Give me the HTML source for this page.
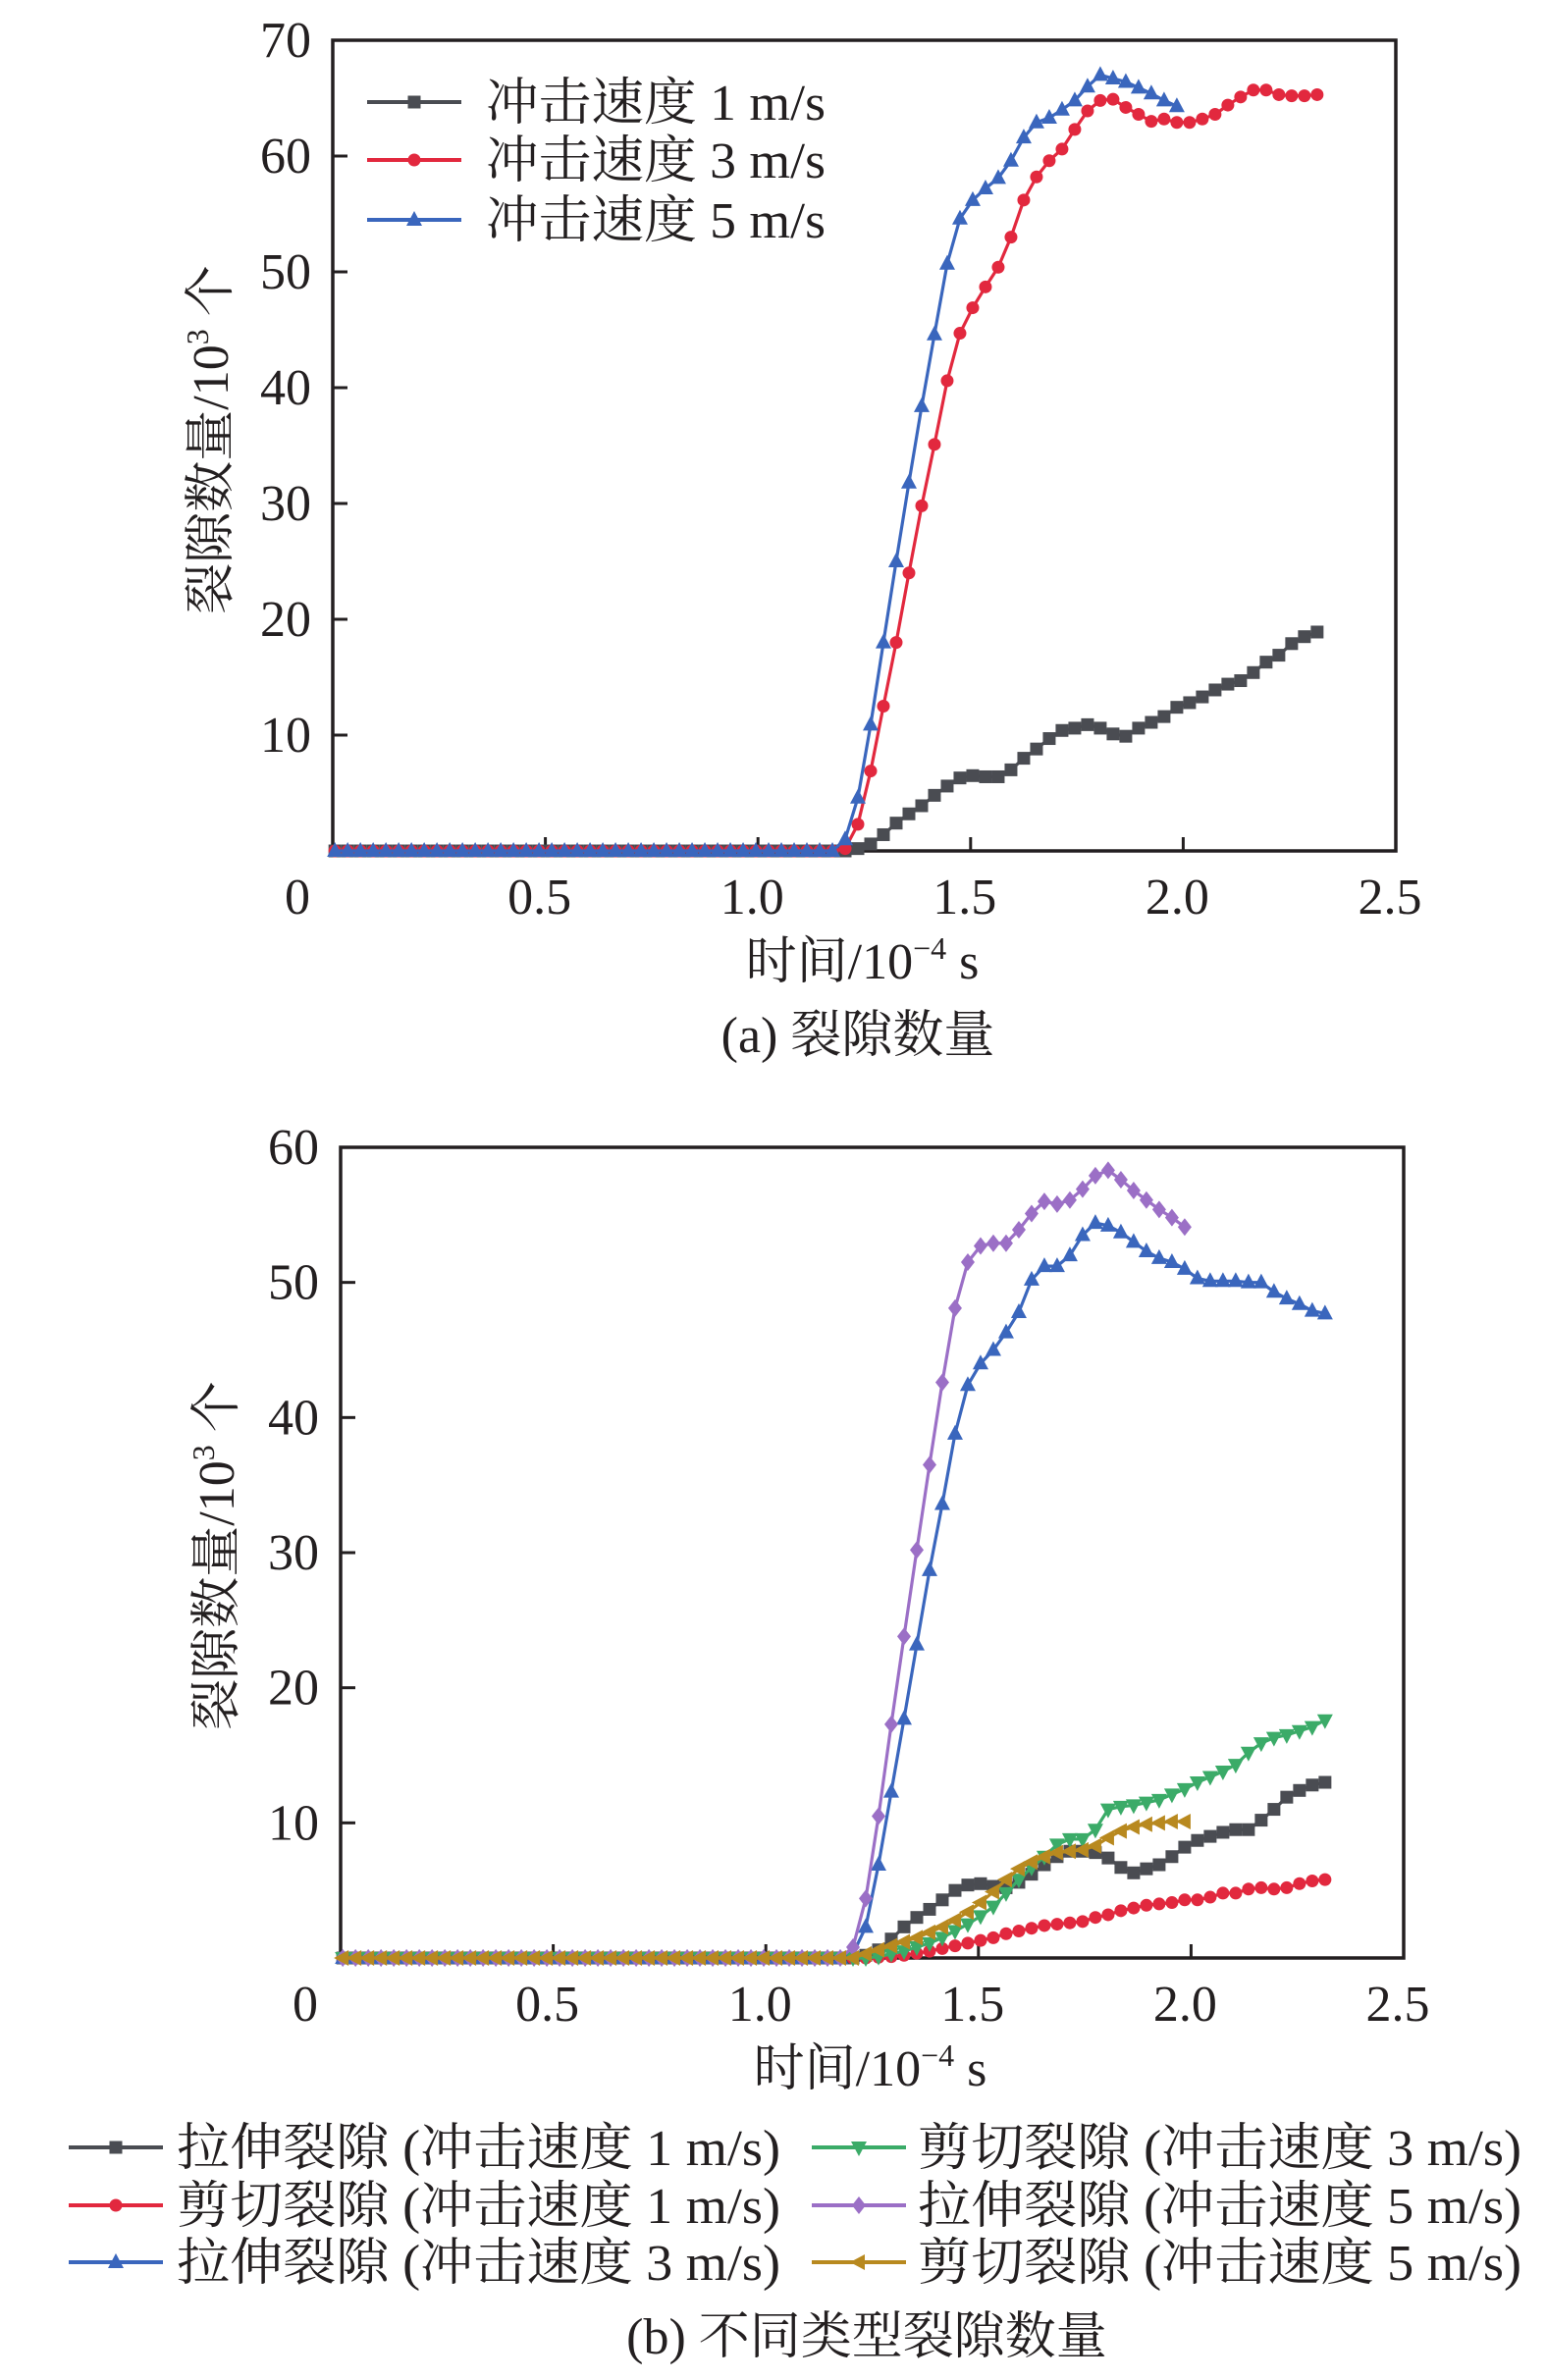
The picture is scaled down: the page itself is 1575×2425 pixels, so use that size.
<!DOCTYPE html>
<html><head><meta charset="utf-8">
<style>
html,body{margin:0;padding:0;background:#fff;}
svg{display:block;}
text{font-family:"Liberation Serif","Noto Serif CJK SC",serif;fill:#231f20;}
</style></head>
<body>
<svg id="fig" width="1575" height="2425" viewBox="0 0 1575 2425" xmlns="http://www.w3.org/2000/svg">
  <g id="chartA"></g>
  <g id="chartB"></g>
  <text x="874" y="1072" font-size="52" text-anchor="middle">(a) 裂隙数量</text>
  <text x="883" y="2398" font-size="52" text-anchor="middle">(b) 不同类型裂隙数量</text>
</svg>
<script>
// sampling grid: t_i = T0 + DT*i (10^-4 s)
const T0 = 0.005, DT = 0.03;
const Z40 = [0,0,0,0,0,0,0,0,0,0,0,0,0,0,0,0,0,0,0,0,0,0,0,0,0,0,0,0,0,0,0,0,0,0,0,0,0,0,0,0];
const xTicks = [0.5, 1.0, 1.5, 2.0];
const xTickLabels = ["0", "0.5", "1.0", "1.5", "2.0", "2.5"];
const yTicksA = [10,20,30,40,50,60,70];
const yTicksB = [10,20,30,40,50,60];

// Chart A series
const a1 = Z40.concat([0,0.2,0.6,1.4,2.4,3.2,3.9,4.8,5.6,6.3,6.5,6.4,6.4,7,8,8.8,9.7,10.4,10.6,10.9,10.6,10.1,9.9,10.6,11.1,11.6,12.4,12.8,13.3,13.9,14.4,14.7,15.4,16.3,16.9,17.9,18.5,18.9]);
const a3 = Z40.concat([0.2,2.3,6.9,12.5,18,24,29.8,35.1,40.6,44.7,46.9,48.7,50.4,53,56.2,58.2,59.6,60.6,62.3,63.9,64.8,64.9,64.2,63.6,63,63.2,62.9,62.9,63.2,63.6,64.4,65.1,65.7,65.7,65.3,65.2,65.2,65.3]);
const a5 = Z40.concat([1,4.6,10.9,18,25,31.8,38.4,44.6,50.7,54.6,56.2,57.2,58.1,59.6,61.6,62.9,63.3,64,64.8,66,67,66.7,66.4,65.9,65.4,64.8,64.3]);

// Chart B series
const bT1 = Z40.concat([0,0.2,0.6,1.4,2.3,3,3.6,4.3,5,5.4,5.5,5.3,5.2,5.6,6.2,6.9,7.5,7.9,7.9,7.8,7.4,6.7,6.3,6.6,6.9,7.5,8.2,8.7,9,9.3,9.5,9.5,10.2,11,11.9,12.4,12.8,13]);
const bS1 = Z40.concat([0,0,0.05,0.1,0.2,0.35,0.5,0.7,0.9,1.1,1.3,1.5,1.8,2.0,2.2,2.4,2.5,2.6,2.7,3.0,3.2,3.5,3.7,3.9,4.0,4.1,4.3,4.3,4.5,4.8,4.8,5.1,5.2,5.1,5.2,5.5,5.7,5.8]);
const bT3 = Z40.concat([0.3,2.3,6.9,12.3,17.7,23.2,28.7,33.6,38.8,42.4,44,45,46.3,47.8,50.2,51.2,51.2,52,53.5,54.4,54.2,53.7,53,52.3,51.8,51.5,51,50.3,50.1,50.1,50.1,50,50,49.3,48.8,48.4,47.9,47.7]);
const bS3 = Z40.concat([0,0,0.1,0.3,0.5,0.8,1.1,1.5,2.0,2.5,3.1,3.8,4.8,5.8,6.7,7.5,8.4,8.8,8.8,9.5,11,11.2,11.3,11.5,11.7,12.1,12.5,13,13.4,13.8,14.3,15.2,15.9,16.3,16.5,16.8,17.1,17.6]);
const bT5 = Z40.concat([0.8,4.4,10.5,17.3,23.8,30.2,36.5,42.6,48.1,51.5,52.7,52.9,52.9,53.9,55.1,56,55.8,56.1,56.9,57.9,58.3,57.6,56.8,56.1,55.4,54.8,54.1]);
const bS5 = Z40.concat([0,0.3,0.6,0.9,1.2,1.5,1.9,2.3,2.8,3.4,4.1,4.9,5.8,6.6,7.1,7.5,7.8,7.9,8.0,8.3,8.9,9.4,9.7,9.9,10.0,10.1,10.1]);

const legendA = ["冲击速度 1 m/s","冲击速度 3 m/s","冲击速度 5 m/s"];
const legendB = ["拉伸裂隙 (冲击速度 1 m/s)","剪切裂隙 (冲击速度 1 m/s)","拉伸裂隙 (冲击速度 3 m/s)","剪切裂隙 (冲击速度 3 m/s)","拉伸裂隙 (冲击速度 5 m/s)","剪切裂隙 (冲击速度 5 m/s)"];

const NS = "http://www.w3.org/2000/svg";
const COL = {k:"#4a4c52", r:"#e2283e", b:"#3a66bd", g:"#3bab68", p:"#9b6fc6", o:"#b8891f"};
function mk(tag, attrs, parent){const e=document.createElementNS(NS,tag);for(const k in attrs)e.setAttribute(k,attrs[k]);parent.appendChild(e);return e;}

function marker(g, shape, x, y, c){
  let e;
  if(shape==="sq") e=mk("rect",{x:x-6.5,y:y-6.5,width:13,height:13,fill:c},g);
  else if(shape==="ci") e=mk("circle",{cx:x,cy:y,r:6.5,fill:c},g);
  else if(shape==="tu") e=mk("polygon",{points:`${x},${y-9} ${x-8},${y+6} ${x+8},${y+6}`,fill:c},g);
  else if(shape==="td") e=mk("polygon",{points:`${x},${y+9} ${x-8},${y-6} ${x+8},${y-6}`,fill:c},g);
  else if(shape==="di") e=mk("polygon",{points:`${x},${y-9} ${x+7},${y} ${x},${y+9} ${x-7},${y}`,fill:c},g);
  else e=mk("polygon",{points:`${x-9},${y} ${x+6},${y-8} ${x+6},${y+8}`,fill:c},g);
  return e;
}

function chart(root, box, ymax, yTicks, series, legend, ytitle){
  const sx = v => box.l + (v/2.5)*(box.r-box.l);
  const sy = v => box.b - (v/ymax)*(box.b-box.t);
  const ax = mk("g",{},root);
  
  
  const frame = mk("rect",{x:box.l,y:box.t,width:box.r-box.l,height:box.b-box.t,fill:"none",stroke:"#231f20","stroke-width":3.5},ax);
  
  
  xTicks.forEach(v=>{const t=mk("line",{x1:sx(v),x2:sx(v),y1:box.b,y2:box.b-14,stroke:"#231f20","stroke-width":3},ax);
    
    });
  yTicks.forEach(v=>{const t=mk("line",{x1:box.l,x2:box.l+15,y1:sy(v),y2:sy(v),stroke:"#231f20","stroke-width":3},ax);
    
    
    const lb=mk("text",{x:box.l-22,y:sy(v)+17,"font-size":52,"text-anchor":"end"},ax); lb.textContent=String(v);
    
    });
  xTickLabels.forEach((s,i)=>{const v=i*0.5;let x=sx(v)-6; if(i===0)x=box.l-36;
    const lb=mk("text",{x:x,y:box.b+64,"font-size":52,"text-anchor":"middle"},ax); lb.textContent=s;
    
    });
  const xt=mk("text",{x:(box.l+box.r)/2+-2,y:box.b+130,"font-size":52,"text-anchor":"middle"},ax);
  
  
  xt.innerHTML='时间/10<tspan font-size="32" dy="-20">−4</tspan><tspan dy="20"> s</tspan>';
  const yt=mk("text",{x:0,y:0,"font-size":52,"text-anchor":"middle",transform:`translate(${ytitle.x},${ytitle.y}) rotate(-90)`},ax);
  
  
  yt.innerHTML='裂隙数量/10<tspan font-size="32" dy="-20">3</tspan><tspan dy="20"> 个</tspan>';
  series.forEach(s=>{
    const g=mk("g",{},root);
    
    
    const pts=s.data.map((v,i)=>[sx(T0+DT*i),sy(v)]);
    const pl=mk("polyline",{points:pts.map(p=>p.join(",")).join(" "),fill:"none",stroke:s.c,"stroke-width":3.2,"stroke-linejoin":"round"},g);
    
    
    pts.forEach(p=>{const m=marker(g,s.m,p[0],p[1],s.c);
      
      });
  });
  legend.forEach((it,i)=>{
    const g=mk("g",{},root);
    
    
    mk("line",{x1:it.x,x2:it.x+96,y1:it.y,y2:it.y,stroke:it.c,"stroke-width":4},g);
    marker(g,it.m,it.x+48,it.y,it.c);
    const t=mk("text",{x:it.tx,y:it.y+18,"font-size":52,textLength:it.w,lengthAdjust:"spacingAndGlyphs"},g);
    t.textContent=it.label;
  });
}

const A=document.getElementById("chartA");
chart(A,{l:339,r:1422,t:41,b:867},70,yTicksA,[
  {name:"series-1ms",data:a1,c:COL.k,m:"sq"},
  {name:"series-3ms",data:a3,c:COL.r,m:"ci"},
  {name:"series-5ms",data:a5,c:COL.b,m:"tu"}],
  [{label:legendA[0],x:374,y:104,tx:495,w:346,c:COL.k,m:"sq"},
   {label:legendA[1],x:374,y:163,tx:495,w:346,c:COL.r,m:"ci"},
   {label:legendA[2],x:374,y:224,tx:495,w:346,c:COL.b,m:"tu"}],
  {x:232,y:448});

const B=document.getElementById("chartB");
chart(B,{l:347,r:1430,t:1169,b:1995},60,yTicksB,[
  {name:"tension-1ms",data:bT1,c:COL.k,m:"sq"},
  {name:"shear-1ms",data:bS1,c:COL.r,m:"ci"},
  {name:"tension-3ms",data:bT3,c:COL.b,m:"tu"},
  {name:"shear-3ms",data:bS3,c:COL.g,m:"td"},
  {name:"tension-5ms",data:bT5,c:COL.p,m:"di"},
  {name:"shear-5ms",data:bS5,c:COL.o,m:"tl"}],
  [{label:legendB[0],x:70,y:2188,tx:180,w:615,c:COL.k,m:"sq"},
   {label:legendB[1],x:70,y:2247,tx:180,w:615,c:COL.r,m:"ci"},
   {label:legendB[2],x:70,y:2305,tx:180,w:615,c:COL.b,m:"tu"},
   {label:legendB[3],x:827,y:2188,tx:935,w:615,c:COL.g,m:"td"},
   {label:legendB[4],x:827,y:2247,tx:935,w:615,c:COL.p,m:"di"},
   {label:legendB[5],x:827,y:2305,tx:935,w:615,c:COL.o,m:"tl"}],
  {x:238,y:1585});
</script>
</body></html>
